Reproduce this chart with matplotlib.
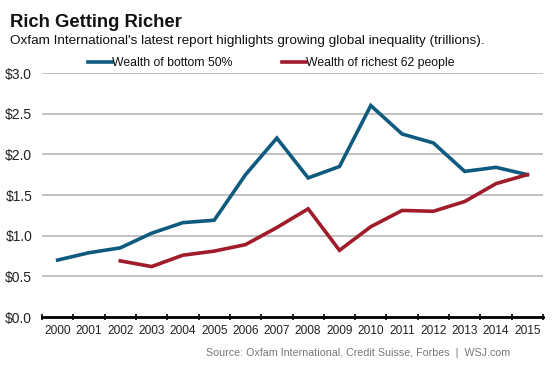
import matplotlib.pyplot as plt
import numpy as np

plt.rcParams['font.family'] = ['Liberation Sans', 'DejaVu Sans']

# data (trillions of dollars)
years = [str(y) for y in range(2000, 2016)]
bottom_50 = [0.70, 0.79, 0.85, 1.03, 1.16, 1.19, 1.75, 2.20, 1.71, 1.85,
             2.60, 2.25, 2.14, 1.79, 1.84, 1.75]
richest_years = [str(y) for y in range(2002, 2016)]
richest_62 = [0.69, 0.62, 0.76, 0.81, 0.89, 1.10, 1.33, 0.82, 1.11, 1.31,
              1.30, 1.42, 1.64, 1.75]
yticks = [0.0, 0.5, 1.0, 1.5, 2.0, 2.5, 3.0]

blue = '#0f5a7f'
red = '#a01c2a'

fig = plt.figure(figsize=(5.53, 3.69), dpi=100)
W, H = 553, 369
ax = fig.add_axes([42 / W, (H - 317) / H, (543 - 42) / W, (317 - 73) / H])

x_all = np.arange(len(years))
x_rich = np.array([years.index(y) for y in richest_years])

ax.plot(x_all, bottom_50, color=blue, lw=2.6, label='Wealth of bottom 50%',
        solid_joinstyle='miter', zorder=3)
ax.plot(x_rich, richest_62, color=red, lw=2.6, label='Wealth of richest 62 people',
        solid_joinstyle='miter', zorder=3)

ax.set_xlim(-0.5, len(years) - 0.5)
ax.set_ylim(0, 3.0)

# gridlines
ax.set_yticks(yticks)
ax.set_yticklabels(['$%.1f' % v for v in yticks], fontsize=10, color='#222222')
ax.yaxis.grid(True, color='#b0b0b0', lw=1.1)
ax.tick_params(axis='y', length=0, pad=7)
ax.set_axisbelow(True)

# category ticks between the years, labels centred
ax.set_xticks(np.arange(-0.5, len(years), 1.0))
ax.set_xticklabels([])
ax.set_xticks(x_all, minor=True)
ax.set_xticklabels(years, minor=True, fontsize=8.6, color='#222222')
ax.tick_params(axis='x', which='major', direction='inout', length=5, width=1.2, color='black')
ax.tick_params(axis='x', which='minor', length=0, pad=6)

for s in ['top', 'right', 'left']:
    ax.spines[s].set_visible(False)
ax.spines['bottom'].set_linewidth(2)
ax.spines['bottom'].set_zorder(4)

fig.text(10 / W, 1 - 27 / H, 'Rich Getting Richer', fontsize=13.3, fontweight='bold',
         color='#111111', va='baseline')
fig.text(10 / W, 1 - 44 / H,
         "Oxfam International's latest report highlights growing global inequality (trillions).",
         fontsize=9.7, color='#111111', va='baseline')

leg = fig.legend(loc='center left', bbox_to_anchor=(88 / W, 1 - 63 / H), ncol=2,
                 frameon=False, fontsize=8.8, handlelength=1.95, handletextpad=0.05,
                 columnspacing=4.0, borderaxespad=0, borderpad=0)
for t in leg.get_texts():
    t.set_color('#111111')

fig.text(510 / W, 1 - 356 / H,
         'Source: Oxfam International, Credit Suisse, Forbes  |  WSJ.com',
         fontsize=7.7, color='#777777', ha='right', va='baseline')

fig.savefig('out.png', dpi=100, facecolor='white')
